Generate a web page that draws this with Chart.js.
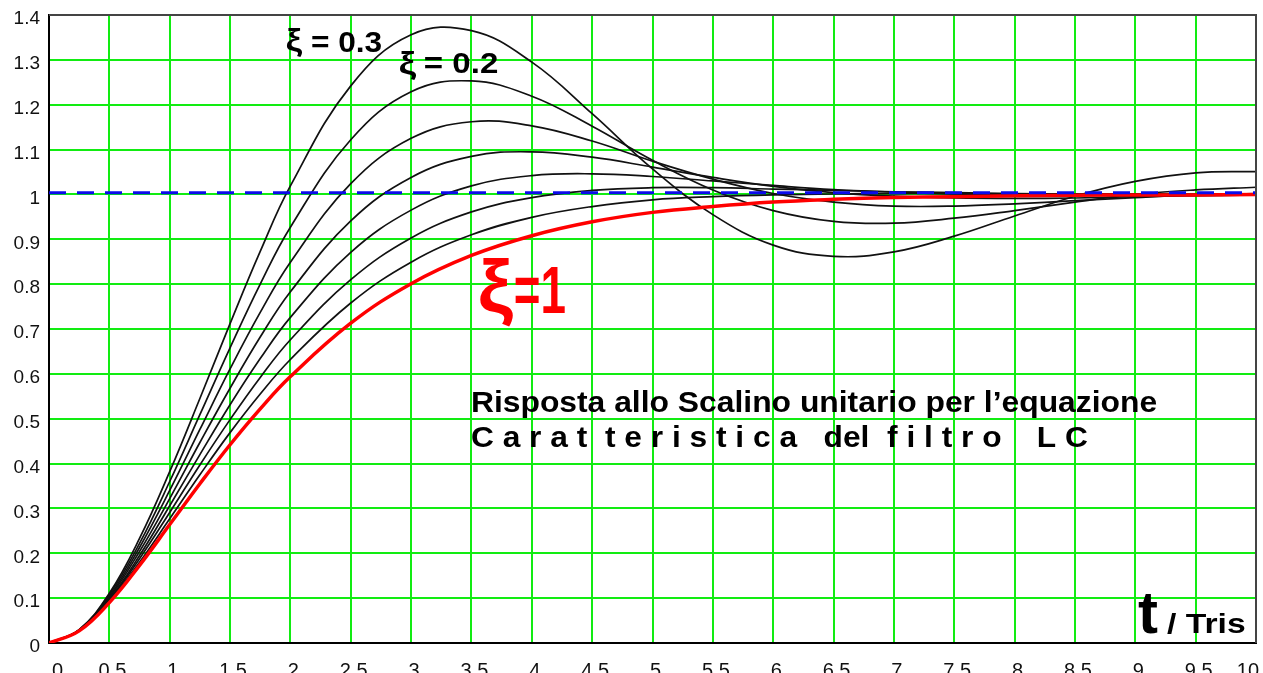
<!DOCTYPE html>
<html>
<head>
<meta charset="utf-8">
<script src="https://cdn.jsdelivr.net/npm/chart.js@4.4.1/dist/chart.umd.min.js"></script>
<style>
  html, body { margin: 0; padding: 0; background: #ffffff; overflow: hidden; }
  #c { display: block; }
</style>
</head>
<body>
<canvas id="c" width="1263" height="673"></canvas>
<script>
// Time axis (t / Tris) and tick values
const tValues = [0, 0.25, 0.5, 0.75, 1, 1.25, 1.5, 1.75, 2, 2.5, 3, 3.5, 4, 4.5, 5, 5.5, 6, 6.5, 7, 7.5, 8, 8.5, 9, 9.5, 10];
const xTicks = [0, 0.5, 1, 1.5, 2, 2.5, 3, 3.5, 4, 4.5, 5, 5.5, 6, 6.5, 7, 7.5, 8, 8.5, 9, 9.5, 10];
const xTickLabels = ['0', '0.5', '1', '1.5', '2', '2.5', '3', '3.5', '4', '4.5', '5', '5.5', '6', '6.5', '7', '7.5', '8', '8.5', '9', '9.5', '10'];
const yTicks = [0, 0.1, 0.2, 0.3, 0.4, 0.5, 0.6, 0.7, 0.8, 0.9, 1, 1.1, 1.2, 1.3, 1.4];
const yTickLabels = ['0', '0.1', '0.2', '0.3', '0.4', '0.5', '0.6', '0.7', '0.8', '0.9', '1', '1.1', '1.2', '1.3', '1.4'];

// Step responses for each damping factor (one value per entry of tValues)
const resp03 = [0, 0.030, 0.111, 0.233, 0.382, 0.545, 0.712, 0.873, 1.019, 1.242, 1.356, 1.365, 1.295, 1.180, 1.057, 0.955, 0.887, 0.862, 0.872, 0.907, 0.952, 0.996, 1.029, 1.048, 1.051];
const resp04 = [0, 0.029, 0.108, 0.222, 0.360, 0.509, 0.658, 0.800, 0.927, 1.122, 1.229, 1.253, 1.219, 1.152, 1.076, 1.010, 0.964, 0.940, 0.936, 0.947, 0.964, 0.983, 1.000, 1.010, 1.016];
const resp05 = [0, 0.029, 0.104, 0.213, 0.340, 0.476, 0.611, 0.737, 0.849, 1.024, 1.125, 1.162, 1.153, 1.119, 1.074, 1.034, 1.002, 0.983, 0.974, 0.974, 0.979, 0.986, 0.993, 0.999, 1.002];
const resp06 = [0, 0.028, 0.101, 0.204, 0.322, 0.447, 0.568, 0.682, 0.783, 0.941, 1.038, 1.085, 1.095, 1.083, 1.061, 1.038, 1.018, 1.004, 0.996, 0.992, 0.991, 0.992, 0.995, 0.997, 0.999];
const resp07 = [0, 0.028, 0.098, 0.195, 0.306, 0.420, 0.531, 0.634, 0.726, 0.871, 0.965, 1.019, 1.042, 1.046, 1.040, 1.030, 1.020, 1.011, 1.005, 1.001, 0.999, 0.998, 0.998, 0.998, 0.999];
const resp08 = [0, 0.027, 0.096, 0.188, 0.291, 0.397, 0.498, 0.592, 0.676, 0.810, 0.903, 0.961, 0.993, 1.009, 1.015, 1.015, 1.012, 1.009, 1.006, 1.004, 1.002, 1.001, 1.000, 1.000, 1.000];
const resp09 = [0, 0.027, 0.093, 0.180, 0.277, 0.375, 0.469, 0.555, 0.632, 0.758, 0.849, 0.910, 0.949, 0.973, 0.988, 0.995, 0.999, 1.001, 1.002, 1.002, 1.001, 1.001, 1.001, 1.000, 1.000];
const resp10 = [0, 0.027, 0.090, 0.173, 0.264, 0.355, 0.442, 0.522, 0.594, 0.713, 0.801, 0.864, 0.908, 0.939, 0.960, 0.973, 0.983, 0.989, 0.993, 0.995, 0.997, 0.998, 0.999, 0.999, 1.000];

// Final value reference (dashed)
const refT = [0, 10];
const refLevel = [1.004, 1.004];

const FONT = "'Liberation Sans', Arial, Helvetica, sans-serif";
const GRID = '#12ec12';

const toPoints = (xs, ys) => xs.map((x, i) => ({ x: x, y: ys[i] }));

const blackCurve = (ys) => ({
  data: toPoints(tValues, ys),
  borderColor: '#111111',
  borderWidth: 1.7,
  pointRadius: 0,
  tension: 0.4,
  fill: false
});

// Draws text squeezed/stretched horizontally to a given ink width
function fittedText(ctx, text, x, baseline, width, font, color) {
  ctx.save();
  ctx.font = font;
  ctx.fillStyle = color;
  ctx.textAlign = 'left';
  ctx.textBaseline = 'alphabetic';
  const m = ctx.measureText(text);
  const ink = m.actualBoundingBoxLeft + m.actualBoundingBoxRight;
  const s = width / ink;
  ctx.translate(x + m.actualBoundingBoxLeft * s, baseline);
  ctx.scale(s, 1);
  ctx.fillText(text, 0, 0);
  ctx.restore();
}

const framePlugin = {
  id: 'frame',
  afterDatasetsDraw(chart) {
    const { ctx, chartArea: a } = chart;
    ctx.save();
    ctx.strokeStyle = '#444444';
    ctx.lineWidth = 2;
    ctx.beginPath();
    ctx.moveTo(a.left, a.top);
    ctx.lineTo(a.right, a.top);
    ctx.lineTo(a.right, a.bottom);
    ctx.stroke();
    ctx.restore();

    const B = 'bold ';
    // damping labels
    fittedText(ctx, '\u03BE', 287, 51, 16, B + '32px ' + FONT, '#000');
    fittedText(ctx, '= 0.3', 312, 52, 70, B + '29px ' + FONT, '#000');
    fittedText(ctx, '\u03BE', 400, 74, 17, B + '32px ' + FONT, '#000');
    fittedText(ctx, '= 0.2', 425, 73, 72, B + '29px ' + FONT, '#000');
    fittedText(ctx, '\u03BE', 480, 312, 33, B + '74px ' + FONT, '#ff0000');
    fittedText(ctx, '=1', 515, 313, 50, B + '67px ' + FONT, '#ff0000');
    // caption
    fittedText(ctx, 'Risposta allo Scalino unitario per l\u2019equazione', 472, 412, 685, B + '29px ' + FONT, '#000');
    fittedText(ctx, 'C a r a t  t e r i s t i c a   del  f i l t r o    L C', 472, 447, 616, B + '29px ' + FONT, '#000');
    // axis name
    fittedText(ctx, 't', 1138, 633, 20, B + '60px ' + FONT, '#000');
    fittedText(ctx, '/ Tris', 1167, 633, 78, B + '28px ' + FONT, '#000');
  }
};

new Chart(document.getElementById('c'), {
  type: 'line',
  data: {
    datasets: [
      {
        data: toPoints(refT, refLevel),
        borderColor: '#0b0bea',
        borderWidth: 3,
        borderDash: [17, 11],
        pointRadius: 0,
        tension: 0,
        fill: false
      },
      {
        data: toPoints(tValues, resp10),
        borderColor: '#ff0000',
        borderWidth: 3.5,
        pointRadius: 0,
        tension: 0.4,
        fill: false
      },
      blackCurve(resp09),
      blackCurve(resp08),
      blackCurve(resp07),
      blackCurve(resp06),
      blackCurve(resp05),
      blackCurve(resp04),
      blackCurve(resp03)
    ]
  },
  options: {
    responsive: false,
    animation: false,
    events: [],
    layout: { padding: { left: 0, right: 7, top: 15, bottom: 0 } },
    plugins: { legend: { display: false }, tooltip: { enabled: false }, title: { display: false } },
    scales: {
      x: {
        type: 'linear',
        min: 0,
        max: 10,
        afterBuildTicks: (s) => { s.ticks = xTicks.map(v => ({ value: v })); },
        afterFit: (s) => { s.height = 30; s.paddingLeft = 0; s.paddingRight = 0; },
        grid: { color: GRID, lineWidth: 2, drawTicks: false },
        border: { color: '#000000', width: 2 },
        ticks: {
          autoSkip: false,
          maxRotation: 0,
          padding: 16,
          labelOffset: 3,
          align: 'inner',
          color: '#111111',
          font: { family: FONT, size: 20 },
          callback: (v, i) => xTickLabels[i]
        }
      },
      y: {
        min: 0,
        max: 1.4,
        afterBuildTicks: (s) => { s.ticks = yTicks.map(v => ({ value: v })); },
        afterFit: (s) => { s.width = 49; s.paddingTop = 0; s.paddingBottom = 0; },
        grid: { color: GRID, lineWidth: 2, drawTicks: false },
        border: { color: '#000000', width: 2 },
        ticks: {
          padding: 9,
          labelOffset: 4,
          color: '#111111',
          font: { family: FONT, size: 19 },
          callback: (v, i) => yTickLabels[i]
        }
      }
    }
  },
  plugins: [framePlugin]
});
</script>
</body>
</html>
